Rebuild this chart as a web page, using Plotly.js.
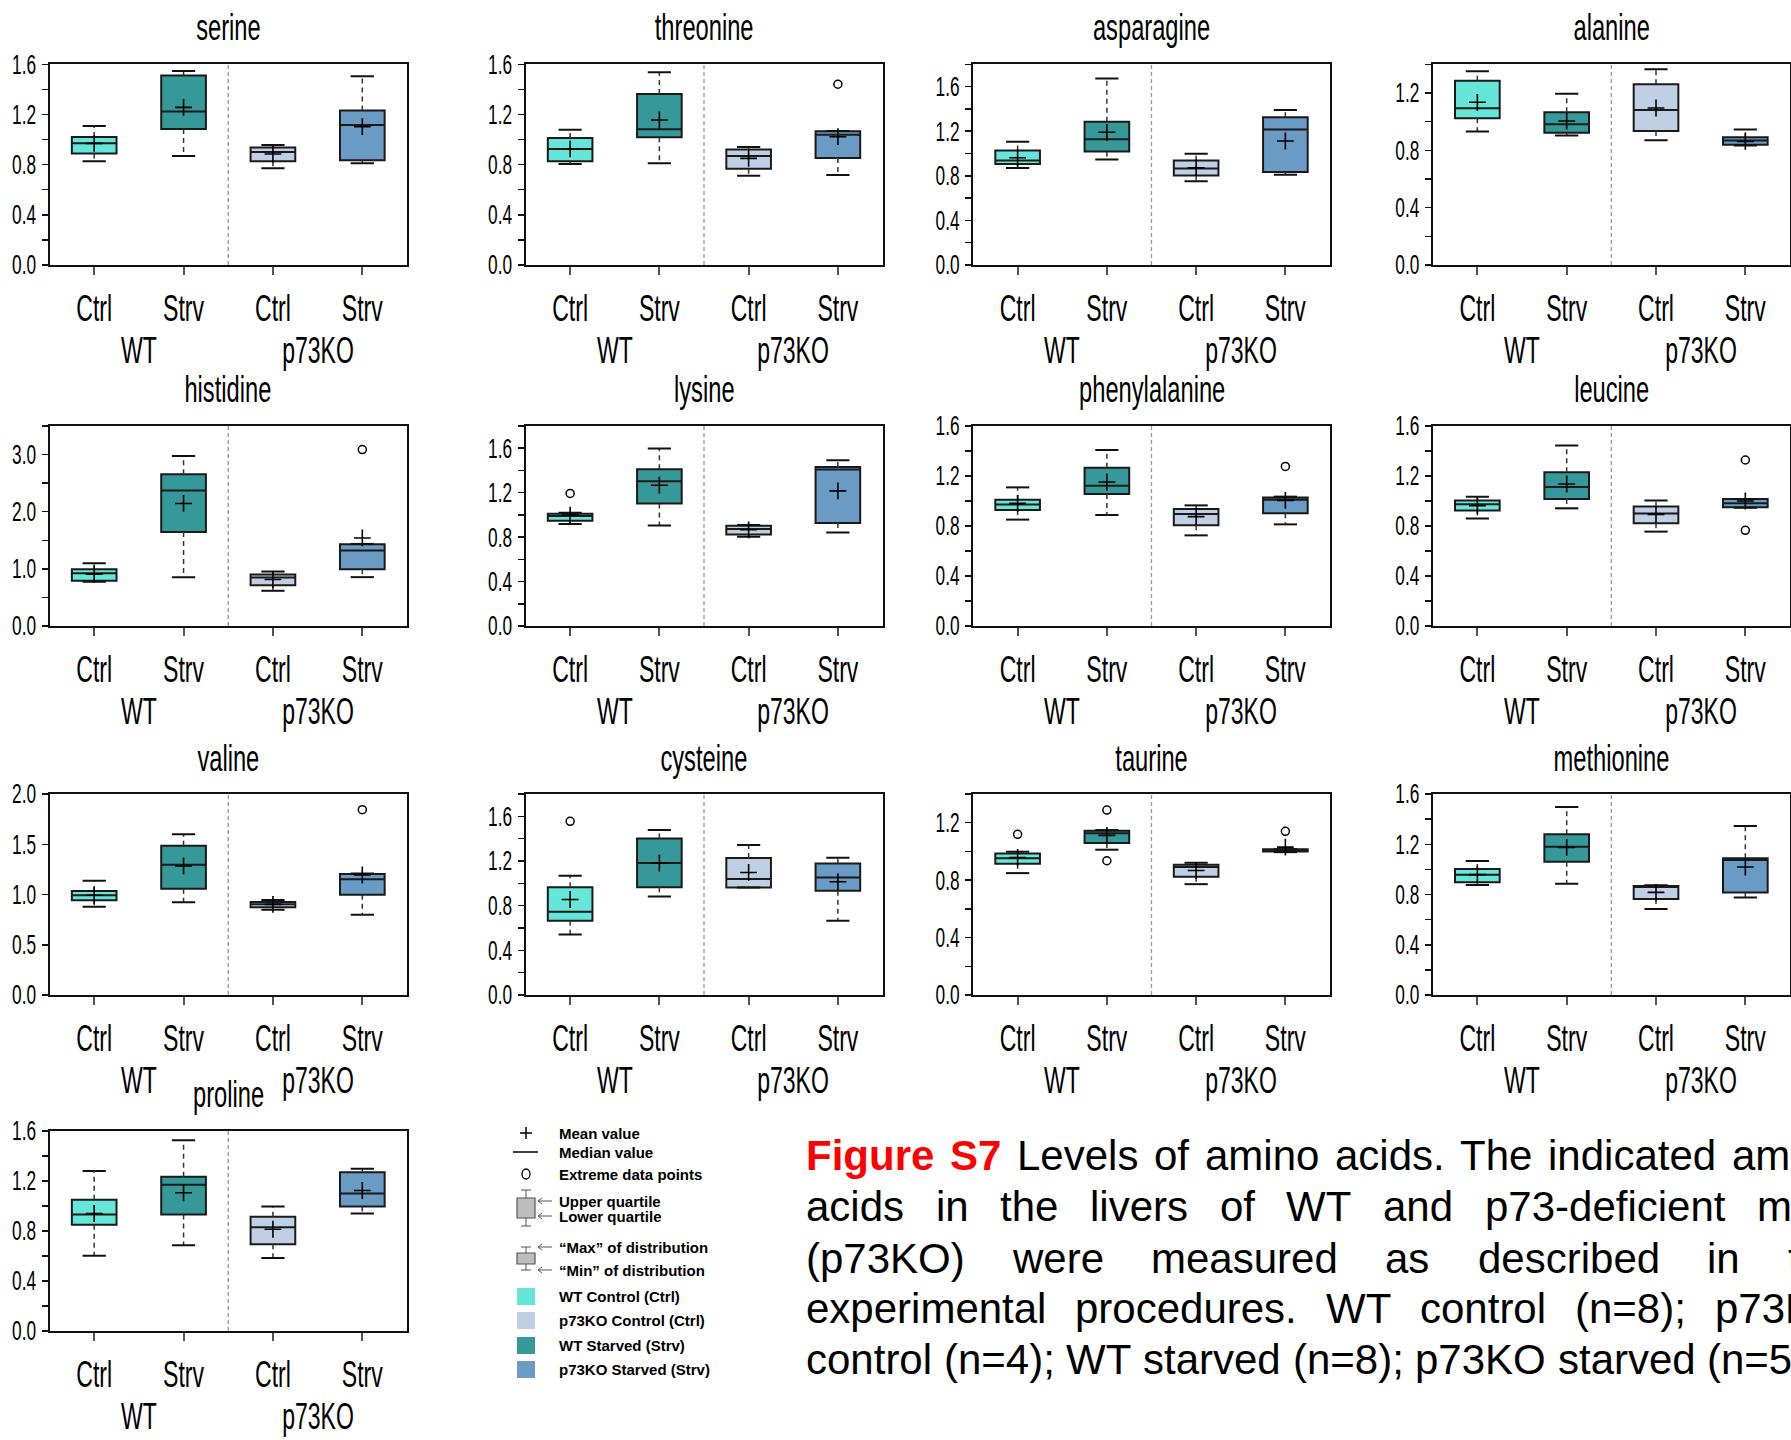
<!DOCTYPE html>
<html><head><meta charset="utf-8">
<script src="https://cdn.plot.ly/plotly-3.0.1.min.js"></script>
<style>html,body{margin:0;padding:0;background:#fff;}#chart{width:1791px;height:1440px;}</style>
</head><body><div id="chart"></div>
<script>
// ---------- DATA ----------
const panelNames = ['serine','threonine','asparagine','alanine','histidine','lysine','phenylalanine','leucine','valine','cysteine','taurine','methionine','proline'];
const tickLabels = ['Ctrl','Strv','Ctrl','Strv'];
const genotypeLabels = ['WT','p73KO'];
// group order per panel: WT Ctrl, WT Strv, p73KO Ctrl, p73KO Strv
const lowerWhisker = [
 [0.827,0.869,0.771,0.811],[0.805,0.811,0.712,0.718],[0.869,0.947,0.752,0.809],[0.932,0.904,0.871,0.834],
 [0.773,0.855,0.616,0.855],[0.917,0.905,0.803,0.842],[0.851,0.888,0.725,0.813],[0.859,0.941,0.755,0.945],
 [0.879,0.922,0.849,0.799],[0.541,0.882,0.963,0.664],[0.849,1.012,0.772,0.995],[0.876,0.886,0.685,0.777],
 [0.603,0.686,0.585,0.941]];
const q1 = [
 [0.888,1.084,0.827,0.835],[0.827,1.018,0.768,0.853],[0.905,1.019,0.803,0.833],[1.023,0.923,0.934,0.839],
 [0.791,1.645,0.715,0.994],[0.947,1.103,0.824,0.926],[0.928,1.056,0.805,0.901],[0.923,1.016,0.821,0.949],
 [0.942,1.058,0.872,0.998],[0.664,0.966,0.963,0.933],[0.914,1.058,0.823,1.000],[0.897,1.061,0.764,0.815],
 [0.850,0.932,0.695,0.996]];
const median = [
 [0.970,1.223,0.901,1.116],[0.925,1.082,0.869,1.039],[0.938,1.127,0.866,1.216],[1.093,0.981,1.081,0.869],
 [0.924,2.372,0.849,1.320],[0.989,1.303,0.872,1.408],[0.971,1.123,0.896,1.011],[0.973,1.112,0.899,0.981],
 [0.992,1.297,0.902,1.151],[0.745,1.181,1.038,1.053],[0.953,1.126,0.891,1.009],[0.958,1.181,0.860,1.075],
 [0.932,1.170,0.830,1.100]];
const q3 = [
 [1.021,1.510,0.936,1.231],[1.013,1.363,0.920,1.066],[1.028,1.285,0.938,1.324],[1.286,1.065,1.261,0.892],
 [0.994,2.657,0.901,1.430],[1.010,1.411,0.902,1.432],[1.011,1.267,0.936,1.029],[1.005,1.229,0.955,1.016],
 [1.035,1.486,0.925,1.204],[0.966,1.402,1.226,1.178],[0.986,1.144,0.907,1.016],[1.003,1.279,0.868,1.088],
 [1.051,1.234,0.914,1.270]];
const upperWhisker = [
 [1.108,1.547,0.957,1.504],[1.079,1.536,0.941,1.068],[1.106,1.672,0.998,1.390],[1.351,1.195,1.365,0.946],
 [1.099,2.977,0.953,1.436],[1.020,1.597,0.908,1.492],[1.109,1.408,0.965,1.035],[1.035,1.445,1.005,1.016],
 [1.138,1.599,0.945,1.210],[1.068,1.477,1.343,1.229],[0.998,1.149,0.921,1.016],[1.067,1.496,0.873,1.345],
 [1.280,1.527,0.996,1.298]];
const meanValue = [
 [0.970,1.257,0.885,1.103],[0.925,1.156,0.850,1.023],[0.962,1.190,0.872,1.112],[1.135,1.004,1.095,0.862],
 [0.907,2.145,0.814,1.541],[0.998,1.267,0.866,1.216],[0.981,1.152,0.875,1.005],[0.963,1.136,0.893,1.000],
 [0.992,1.284,0.902,1.194],[0.855,1.181,1.097,1.014],[0.958,1.112,0.867,1.030],[0.958,1.175,0.817,1.019],
 [0.940,1.106,0.814,1.124]];
const outliers = [
 [[],[],[],[]],[[],[],[],[1.441]],[[],[],[],[]],[[],[],[],[]],
 [[],[],[],[3.087]],[[1.193],[],[],[]],[[],[],[],[1.277]],[[],[],[],[1.328,0.765]],
 [[],[],[],[1.844]],[[1.555],[],[],[]],[[1.119],[1.288,0.935],[],[1.140]],[[],[],[],[]],
 [[],[],[],[]]];
const legendItems = ['Mean value','Median value','Extreme data points','Upper quartile','Lower quartile','\u201cMax\u201d of distribution','\u201cMin\u201d of distribution'];
const groupNames = ['WT Control (Ctrl)','p73KO Control (Ctrl)','WT Starved (Strv)','p73KO Starved (Strv)'];
const captionLines = [
 'Figure S7 Levels of amino acids. The indicated amino',
 'acids in the livers of WT and p73-deficient mice',
 '(p73KO) were measured as described in the',
 'experimental procedures. WT control (n=8); p73KO',
 'control (n=4); WT starved (n=8); p73KO starved (n=5).'];

// ---------- STYLE / LAYOUT ----------
const W = 1791, H = 1440;
const P = x => x / W, Q = y => 1 - y / H;
const ARIAL = '"Liberation Sans",Arial,sans-serif';
const SQUEEZE = 0.64;   // horizontal compression of the condensed panel font
const boxColors = ['#66e6d9','#35999a','#bfd0e5','#6a9bc4'];
const legendColors = ['#66e6d9','#bfd0e5','#35999a','#6a9bc4'];
const yMax = [1.6,1.6,1.8,1.4, 3.5,1.8,1.6,1.6, 2.0,1.8,1.4,1.6, 1.6];
const yDtick = [0.4,0.4,0.4,0.4, 1.0,0.4,0.4,0.4, 0.5,0.4,0.4,0.4, 0.4];
const yMinor = [0.2,0.2,0.2,0.2, 0.5,0.2,0.2,0.2, null,0.2,0.2,0.2, 0.2];
const colL = [49.5, 525.5, 973, 1432.7], colR = [407, 882.5, 1330, 1790];
const rowT = [64.3, 426, 794, 1131], rowB = [265, 626, 995, 1331];
const titleY = [27, 389, 758, 1094];

const traces = [];
const layout = {width: W, height: H, margin: {l:0,r:0,t:0,b:0}, paper_bgcolor:'#fff', plot_bgcolor:'#fff',
  showlegend:false, annotations:[], shapes:[], font:{family:ARIAL, color:'#000'}};

panelNames.forEach((name, k) => {
  const r = Math.floor(k/4), c = k % 4;
  const sfx = k === 0 ? '' : String(k+1);
  const xr = 'x'+sfx, yr = 'y'+sfx;
  const L = colL[c], R = colR[c], T = rowT[r], B = rowB[r];
  layout['xaxis'+sfx] = {domain:[P(L),P(R)], anchor:yr, range:[-0.5,3.5], tickmode:'array', tickvals:[0,1,2,3],
    ticktext:tickLabels, ticks:'outside', ticklen:8, tickwidth:2, tickcolor:'#555', showline:true, mirror:true,
    linecolor:'#111', linewidth:2, showgrid:false, zeroline:false, tickfont:{family:ARIAL,size:36,color:'#000'},
    ticklabelstandoff:3, fixedrange:true, automargin:false};
  const ya = {domain:[Q(B),Q(T)], anchor:xr, range:[0,yMax[k]], tickmode:'linear', tick0:0, dtick:yDtick[k],
    tickformat:'.1f', ticks:'outside', ticklen:6, tickwidth:1.5, tickcolor:'#111', showline:true, mirror:true,
    linecolor:'#111', linewidth:2, showgrid:false, zeroline:false, tickfont:{family:ARIAL,size:27,color:'#000'},
    ticklabelstandoff:0, fixedrange:true, automargin:false};
  if (yMinor[k]) ya.minor = {dtick:yMinor[k], tick0:0, ticks:'outside', ticklen:6, tickwidth:1.5, tickcolor:'#111', showgrid:false};
  layout['yaxis'+sfx] = ya;

  const wx = [], wy = [], cx = [], cy = [];
  for (let i = 0; i < 4; i++) {
    wx.push(i, i, null, i, i, null);
    wy.push(q3[k][i], upperWhisker[k][i], null, q1[k][i], lowerWhisker[k][i], null);
    cx.push(i-0.13, i+0.13, null, i-0.13, i+0.13, null);
    cy.push(upperWhisker[k][i], upperWhisker[k][i], null, lowerWhisker[k][i], lowerWhisker[k][i], null);
  }
  traces.push({type:'scatter', mode:'lines', x:wx, y:wy, xaxis:xr, yaxis:yr, hoverinfo:'skip',
    line:{color:'#333', width:1.5, dash:'5px,4px'}});
  for (let i = 0; i < 4; i++) {
    traces.push({type:'box', x:[i], q1:[q1[k][i]], median:[median[k][i]], q3:[q3[k][i]],
      lowerfence:[q1[k][i]], upperfence:[q3[k][i]], width:0.5, whiskerwidth:0, boxpoints:false,
      fillcolor:boxColors[i], line:{color:'#1a1a1a', width:2}, xaxis:xr, yaxis:yr, hoverinfo:'skip'});
  }
  traces.push({type:'scatter', mode:'lines', x:cx, y:cy, xaxis:xr, yaxis:yr, hoverinfo:'skip',
    line:{color:'#111', width:2}});
  traces.push({type:'scatter', mode:'markers', x:[0,1,2,3], y:meanValue[k], xaxis:xr, yaxis:yr, hoverinfo:'skip',
    marker:{symbol:'cross-thin', size:12, color:'#000', line:{color:'#000', width:1.6}}});
  const ox = [], oy = [];
  outliers[k].forEach((arr, i) => arr.forEach(v => { ox.push(i); oy.push(v); }));
  if (ox.length) traces.push({type:'scatter', mode:'markers', x:ox, y:oy, xaxis:xr, yaxis:yr, hoverinfo:'skip',
    marker:{symbol:'circle-open', size:8, color:'#000', line:{color:'#000', width:1.5}}});

  layout.shapes.push({type:'line', xref:xr, yref:yr+' domain', x0:1.5, x1:1.5, y0:0, y1:1,
    line:{color:'#999', width:1.3, dash:'4px,3px'}});
  layout.annotations.push({xref:'paper', yref:'paper', x:P((L+R)/2), y:Q(titleY[r]), text:name, showarrow:false,
    xanchor:'center', yanchor:'middle', font:{family:ARIAL, size:37, color:'#000'}});
  genotypeLabels.forEach((g, j) => layout.annotations.push({xref:xr, yref:'paper', x:0.5 + 2*j, y:Q(B+85),
    text:g, showarrow:false, xanchor:'center', yanchor:'middle', font:{family:ARIAL, size:36, color:'#000'}}));
});
const nPanelAnn = layout.annotations.length;

// ---------- LEGEND (drawn) ----------
const lgFont = {family:ARIAL, size:15, color:'#000'};
const lgText = (t, x, y) => layout.annotations.push({xref:'paper', yref:'paper', x:P(x), y:Q(y), text:'<b>'+t+'</b>',
  showarrow:false, xanchor:'left', yanchor:'middle', font:lgFont});
const seg = (x0,y0,x1,y1,col,w) => layout.shapes.push({type:'line', xref:'paper', yref:'paper',
  x0:P(x0), y0:Q(y0), x1:P(x1), y1:Q(y1), line:{color:col||'#000', width:w||1.5}});
const rect = (x0,y0,x1,y1,fill,lc) => layout.shapes.push({type:'rect', xref:'paper', yref:'paper',
  x0:P(x0), y0:Q(y0), x1:P(x1), y1:Q(y1), fillcolor:fill, line:{color:lc||fill, width:lc?1.2:0}});
const TX = 557, IC = 526;
seg(IC-6,1133,IC+6,1133); seg(IC,1127,IC,1139);
lgText(legendItems[0], TX, 1133);
seg(IC-13,1152,IC+12,1152);
lgText(legendItems[1], TX, 1152);
layout.shapes.push({type:'circle', xref:'paper', yref:'paper', x0:P(IC-4), x1:P(IC+4), y0:Q(1169), y1:Q(1179),
  line:{color:'#000', width:1.3}});
lgText(legendItems[2], TX, 1174);
seg(IC,1190,IC,1198,'#555',1); seg(IC,1218,IC,1226,'#555',1);
seg(IC-5,1190,IC+5,1190,'#555',1); seg(IC-5,1226,IC+5,1226,'#555',1);
rect(IC-9,1198,IC+9,1218,'#bdbdbd','#555');
seg(538,1201,552,1201,'#555',1); seg(538,1201,542,1198,'#555',1); seg(538,1201,542,1204,'#555',1);
seg(538,1216,552,1216,'#555',1); seg(538,1216,542,1213,'#555',1); seg(538,1216,542,1219,'#555',1);
lgText(legendItems[3], TX, 1201);
lgText(legendItems[4], TX, 1216);
seg(IC-5,1247,IC+5,1247,'#555',1); seg(IC-5,1270,IC+5,1270,'#555',1);
seg(IC,1247,IC,1253,'#555',1); seg(IC,1264,IC,1270,'#555',1);
rect(IC-9,1253,IC+9,1264,'#bdbdbd','#555');
seg(538,1247,552,1247,'#555',1); seg(538,1247,542,1244,'#555',1); seg(538,1247,542,1250,'#555',1);
seg(538,1270,552,1270,'#555',1); seg(538,1270,542,1267,'#555',1); seg(538,1270,542,1273,'#555',1);
lgText(legendItems[5], TX, 1247);
lgText(legendItems[6], TX, 1270);
[1296,1320,1345,1369].forEach((y, i) => {
  rect(517, y-8, 535, y+9, legendColors[i]);
  lgText(groupNames[i], TX, y);
});

// ---------- CAPTION (justified) ----------
const cv = document.createElement('canvas').getContext('2d');
const CAP = 42, capL = 805, capR = 1845, capY = [1155, 1206, 1258, 1308, 1359];
const measure = (t, bold) => { cv.font = (bold?'bold ':'') + CAP + 'px "Liberation Sans", Arial'; return cv.measureText(t).width; };
captionLines.forEach((line, li) => {
  const words = line.split(' ');
  const bolds = words.map((w, wi) => li === 0 && wi < 2);
  const widths = words.map((w, wi) => measure(w, bolds[wi]));
  const sum = widths.reduce((a,b)=>a+b, 0);
  const last = li === captionLines.length - 1;
  const gap = last ? measure(' ', false) : (capR - capL - sum) / (words.length - 1);
  let x = capL;
  words.forEach((w, wi) => {
    layout.annotations.push({xref:'paper', yref:'paper', x:P(x), y:Q(capY[li]), xanchor:'left', yanchor:'middle',
      text: bolds[wi] ? '<b>'+w+'</b>' : w, showarrow:false, borderpad:0,
      font:{family:ARIAL, size:CAP, color: bolds[wi] ? '#ff0000' : '#000'}});
    x += widths[wi] + gap;
  });
});

Plotly.newPlot('chart', traces, layout, {staticPlot:true, displayModeBar:false}).then(gd => {
  // the panels use a condensed face: compress panel texts horizontally around their anchor
  const squeeze = el => {
    const w = el.getComputedTextLength();
    if (w > 0) { el.setAttribute('textLength', (w * SQUEEZE).toFixed(1)); el.setAttribute('lengthAdjust', 'spacingAndGlyphs'); }
  };
  gd.querySelectorAll('.xaxislayer-above text, .yaxislayer-above text').forEach(squeeze);
  gd.querySelectorAll('.annotation').forEach(a => {
    const i = +a.getAttribute('data-index');
    if (i < nPanelAnn) a.querySelectorAll('text').forEach(squeeze);
  });
});
</script></body></html>
